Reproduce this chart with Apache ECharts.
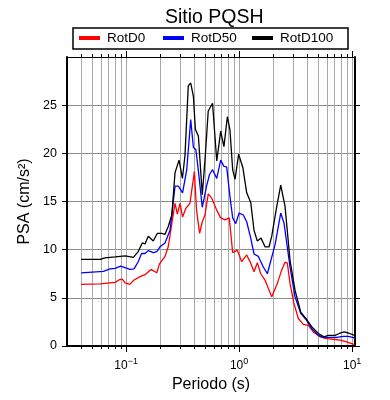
<!DOCTYPE html>
<html>
<head>
<meta charset="utf-8">
<script src="https://cdn.jsdelivr.net/npm/echarts@6/dist/echarts.min.js"></script>
<style>
  html, body { margin: 0; padding: 0; background: #fff; }
  #chart { width: 390px; height: 400px; }
</style>
</head>
<body>
<div id="chart"></div>
<script>
// [periodo (s), PSA (cm/s2)]
var rotD0 = [
  [0.04, 6.4], [0.059, 6.45], [0.072, 6.55], [0.08, 6.6], [0.088, 6.9], [0.0925, 6.95],
  [0.098, 6.55], [0.108, 6.4], [0.1175, 6.85], [0.133, 7.2], [0.147, 7.4], [0.166, 7.95],
  [0.187, 7.6], [0.197, 8.5], [0.221, 9.3], [0.236, 10.3], [0.254, 12.75], [0.271, 14.8],
  [0.284, 13.7], [0.3, 14.8], [0.316, 13.4], [0.338, 14.3], [0.367, 14.8], [0.402, 18.1],
  [0.42, 14.1], [0.447, 11.7], [0.472, 12.9], [0.499, 13.6], [0.533, 15.8], [0.573, 15.35],
  [0.634, 14.1], [0.687, 13.3], [0.75, 13.1], [0.818, 13.3], [0.877, 9.7], [0.964, 9.95],
  [1.054, 8.75], [1.167, 9.45], [1.267, 8.6], [1.355, 7.7], [1.449, 8.65], [1.553, 7.5],
  [1.695, 6.85], [1.944, 5.1], [2.178, 6.5], [2.383, 7.9], [2.548, 8.7], [2.671, 8.6],
  [2.821, 6.5], [3.06, 4.4], [3.342, 2.85], [3.698, 2.25], [4.093, 2.15], [4.536, 1.46],
  [5.2, 0.95], [5.959, 0.77], [6.816, 0.7], [7.811, 0.6], [8.954, 0.42], [10.5, 0.15]
];
var rotD50 = [
  [0.04, 7.6], [0.063, 7.75], [0.072, 8.0], [0.08, 8.05], [0.0895, 8.3], [0.093, 8.25],
  [0.108, 7.95], [0.1175, 8.0], [0.128, 8.75], [0.137, 9.6], [0.147, 9.6], [0.157, 9.9],
  [0.174, 9.7], [0.187, 9.8], [0.1995, 10.3], [0.221, 10.7], [0.245, 12.05], [0.271, 16.6],
  [0.29, 16.6], [0.316, 15.9], [0.344, 18.3], [0.373, 23.5], [0.394, 20.6], [0.414, 20.4],
  [0.436, 18.2], [0.472, 14.4], [0.515, 16.6], [0.547, 17.8], [0.582, 18.3], [0.634, 17.4],
  [0.687, 19.3], [0.734, 18.65], [0.776, 18.6], [0.83, 15.5], [0.877, 13.3], [0.933, 12.7],
  [1.0, 13.8], [1.089, 13.6], [1.167, 12.9], [1.267, 11.2], [1.355, 9.55], [1.479, 9.3],
  [1.637, 8.2], [1.778, 7.5], [1.84, 7.5], [2.078, 10.5], [2.335, 13.8], [2.496, 12.75],
  [2.821, 8.2], [3.124, 5.1], [3.508, 3.4], [3.908, 2.75], [4.386, 1.8], [5.023, 1.1],
  [5.637, 0.87], [6.37, 0.9], [7.305, 0.9], [8.356, 1.0], [9.246, 1.0], [10.5, 0.85]
];
var rotD100 = [
  [0.04, 9.0], [0.059, 9.0], [0.065, 9.15], [0.08, 9.25], [0.098, 9.35], [0.116, 9.2],
  [0.128, 9.8], [0.139, 10.7], [0.147, 10.6], [0.157, 11.4], [0.174, 10.9], [0.189, 11.7],
  [0.207, 11.7], [0.221, 11.6], [0.236, 12.4], [0.254, 13.6], [0.271, 18.0], [0.294, 19.3],
  [0.315, 17.4], [0.332, 19.8], [0.355, 27.0], [0.373, 27.3], [0.394, 25.9], [0.41, 22.5],
  [0.436, 21.8], [0.472, 15.7], [0.499, 19.3], [0.533, 24.4], [0.582, 25.2], [0.634, 19.2],
  [0.687, 22.3], [0.734, 20.7], [0.787, 23.8], [0.83, 22.4], [0.877, 18.3], [0.92, 17.3],
  [0.99, 19.9], [1.08, 18.5], [1.167, 15.9], [1.267, 14.9], [1.355, 12.0], [1.449, 10.9],
  [1.563, 11.2], [1.695, 10.3], [1.84, 10.3], [1.944, 11.4], [2.153, 14.5], [2.335, 16.7],
  [2.548, 14.5], [2.821, 8.9], [3.124, 5.8], [3.508, 3.5], [3.908, 2.85], [4.386, 2.0],
  [5.023, 1.3], [5.637, 0.95], [6.152, 1.1], [7.056, 1.1], [7.703, 1.3], [8.472, 1.46],
  [9.246, 1.35], [10.5, 1.1]
];

var xMajorTicks = [0.1, 1, 10];
var xMinorTicks = [0.04, 0.05, 0.06, 0.07, 0.08, 0.09, 0.2, 0.3, 0.4, 0.5, 0.6, 0.7, 0.8, 0.9,
  2, 3, 4, 5, 6, 7, 8, 9];
var xTickExponents = ['−1', '0', '1'];
var yTicks = [0, 5, 10, 15, 20, 25];

var font = 'Liberation Sans, Arial, sans-serif';
var allXTicks = xMinorTicks.concat(xMajorTicks).sort(function (a, b) { return a - b; });

var chart = echarts.init(document.getElementById('chart'), null, { renderer: 'canvas' });

function makeX(position, ticks, tickLen, lineW, extra) {
  var ax = {
    type: 'log',
    logBase: 10,
    position: position,
    min: 0.03,
    max: 10.6,
    axisLine: { show: lineW > 0, onZero: false, lineStyle: { color: '#000', width: lineW } },
    axisTick: { show: true, inside: false, length: tickLen, customValues: ticks,
      lineStyle: { color: '#000', width: 1 } },
    axisLabel: { show: false },
    splitLine: { show: false },
    minorTick: { show: false }
  };
  return Object.assign(ax, extra || {});
}

var option = {
  animation: false,
  textStyle: { fontFamily: font },
  title: {
    text: 'Sitio PQSH',
    left: 160,
    top: 3,
    textStyle: { fontFamily: font, fontSize: 19.5, fontWeight: 'normal', color: '#000' }
  },
  graphic: [{
    type: 'rect',
    z: 0,
    shape: { x: 73, y: 28, width: 275, height: 21 },
    style: { fill: '#fff', stroke: '#000', lineWidth: 1.5 }
  }],
  legend: [
    { data: ['RotD0'], left: 79 },
    { data: ['RotD50'], left: 163 },
    { data: ['RotD100'], left: 252 }
  ].map(function (l) {
    return Object.assign(l, {
      top: 31, padding: 0, icon: 'rect', itemWidth: 21, itemHeight: 4,
      textStyle: { fontFamily: font, fontSize: 13.5, color: '#000', padding: [0, 0, 0, 2] }
    });
  }),
  grid: { left: 67, right: 35, top: 57, bottom: 54, containLabel: false },
  xAxis: [
    makeX('bottom', allXTicks, 3, 2, {
      name: 'Periodo (s)',
      nameLocation: 'middle',
      nameGap: 29,
      nameTextStyle: { fontFamily: font, fontSize: 16, color: '#000' },
      axisLabel: {
        show: true, customValues: xMajorTicks, margin: 11,
        color: '#000',
        formatter: function (v) {
          var i = xMajorTicks.indexOf(Number(v));
          return i >= 0 ? '{b|10}{s|' + xTickExponents[i] + '}' : '';
        },
        rich: {
          b: { fontFamily: font, fontSize: 12, lineHeight: 15, color: '#000', verticalAlign: 'bottom' },
          s: { fontFamily: font, fontSize: 9, lineHeight: 9, color: '#000', verticalAlign: 'top' }
        }
      },
      splitLine: { show: true, lineStyle: { color: '#a8a8a8', width: 1 } }
    }),
    makeX('bottom', xMajorTicks, 6, 0),
    makeX('top', allXTicks, 3, 1),
    makeX('top', xMajorTicks, 6, 0)
  ],
  yAxis: [
    {
      type: 'value', position: 'left', min: 0, max: 30, interval: 5,
      name: 'PSA (cm/s²)', nameLocation: 'middle', nameGap: 30,
      nameTextStyle: { fontFamily: font, fontSize: 16, color: '#000' },
      axisLine: { show: true, lineStyle: { color: '#000', width: 2 } },
      axisTick: { show: true, length: 5, customValues: yTicks, lineStyle: { color: '#000' } },
      axisLabel: { customValues: yTicks, margin: 10, fontFamily: font, fontSize: 12.5, color: '#000' },
      splitLine: { show: true, lineStyle: { color: '#8c8c8c', width: 1 } }
    },
    {
      type: 'value', position: 'right', min: 0, max: 30, interval: 5,
      axisLine: { show: true, lineStyle: { color: '#000', width: 2 } },
      axisTick: { show: true, length: 5, customValues: yTicks, lineStyle: { color: '#000' } },
      axisLabel: { show: false },
      splitLine: { show: false }
    }
  ],
  series: [
    { name: 'RotD0', type: 'line', data: rotD0, color: '#ff0000' },
    { name: 'RotD50', type: 'line', data: rotD50, color: '#0000ff' },
    { name: 'RotD100', type: 'line', data: rotD100, color: '#000000' }
  ].map(function (s) {
    return Object.assign(s, {
      xAxisIndex: 0, yAxisIndex: 0, showSymbol: false, symbol: 'none',
      lineStyle: { width: 1.3, color: s.color }, z: 3
    });
  })
};

chart.setOption(option);
</script>
</body>
</html>
